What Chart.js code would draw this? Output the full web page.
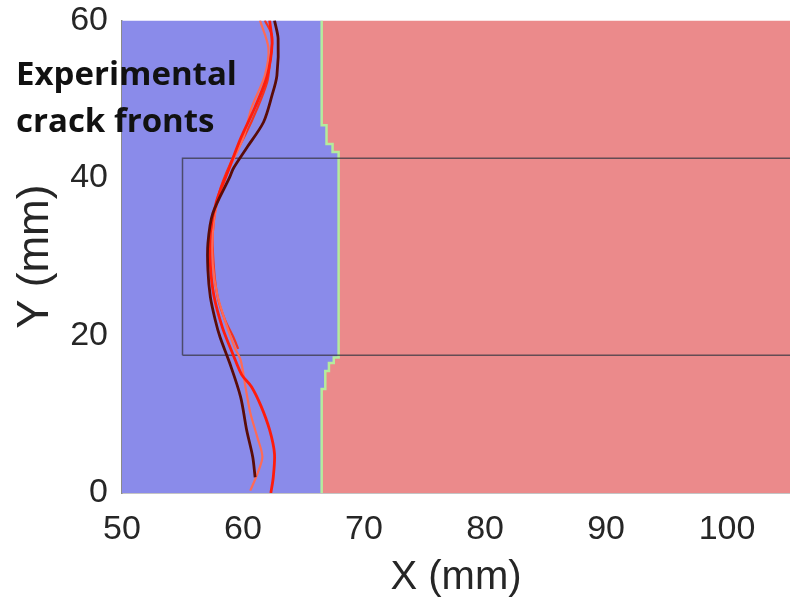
<!DOCTYPE html>
<html lang="en">
<head>
    <meta charset="UTF-8">
    <title>Crack fronts</title>
    <style>
        html, body { margin: 0; padding: 0; background: #fff; }
        .chart-container { width: 790px; height: 607px; }
    </style>
</head>
<body>
    <div class="chart-container">
        <canvas id="crackChart"></canvas>
    </div>

    <script src="https://cdn.jsdelivr.net/npm/chart.js"></script>
    <script>
        // Axis limits and ticks
        const xMin = 50, xMax = 105.2;
        const yMin = 0, yMax = 60;
        const xTicks = [50, 60, 70, 80, 90, 100];
        const yTicks = [0, 20, 40, 60];

        // Phase boundary (blue / red)
        const boundaryX = [66.5, 66.5, 66.8, 66.8, 67.1, 67.1, 67.5, 67.5, 67.9, 67.9, 67.4, 67.4, 66.9, 66.9, 66.5, 66.5];
        const boundaryY = [0, 13.2, 13.2, 15.5, 15.5, 16.5, 16.5, 17.2, 17.2, 43.3, 43.3, 44.3, 44.3, 46.7, 46.7, 60];

        // Window rectangle
        const rectX = [55, 106, 106, 55, 55];
        const rectY = [17.5, 17.5, 42.5, 42.5, 17.5];

        // Experimental crack fronts
        const frontDarkX = [62.6, 62.9, 62.8, 62.4, 61.7, 60.3, 59.2, 58.9, 57.5, 57.1, 57.1, 57.3, 57.7, 58.1, 58.9, 59.8, 60.3, 60.8, 61.0];
        const frontDarkY = [60, 57.7, 53.0, 50.5, 47.1, 43.8, 41.2, 40.1, 35.5, 31.7, 28.3, 24.9, 22.0, 19.8, 16.5, 12.2, 8.0, 4.6, 2.0];

        const frontRedX = [62.2, 62.4, 62.0, 61.0, 59.8, 58.8, 57.8, 57.3, 57.3, 57.6, 58.3, 59.2, 59.9, 60.7, 61.5, 62.2, 62.6, 62.5, 62.3];
        const frontRedY = [60, 57, 53, 49, 45, 41, 37, 33, 29, 25, 21, 17.5, 15, 13.5, 11, 8, 5, 2, 0];

        const frontSalmonX = [61.4, 62.1, 61.8, 60.7, 60.0, 58.8, 57.9, 57.5, 57.5, 57.9, 58.6, 59.3, 59.8, 60.2, 60.6, 61.2, 61.6, 61.2, 60.6];
        const frontSalmonY = [60, 56.5, 53, 48.9, 45, 41, 37, 33, 29, 25, 21.5, 18.5, 16.9, 13.5, 10.2, 7, 4.6, 2.5, 0.3];

        const frontOrangeX = [61.8, 62.4, 62.2, 62.0, 61.2, 60.2, 59.0, 58.0, 57.5, 57.6, 57.9, 58.5, 59.2, 59.6];
        const frontOrangeY = [60, 58, 54.3, 52.2, 48.9, 45.5, 42, 38, 33, 28.5, 24.9, 22, 19.8, 18.3];

        function toPoints(xs, ys) {
            return xs.map((x, i) => ({ x: x, y: ys[i] }));
        }

        const bluePoly = [{ x: xMin, y: yMin }].concat(toPoints(boundaryX, boundaryY), [{ x: xMin, y: yMax }]);
        const redPoly = toPoints(boundaryX, boundaryY).concat([{ x: xMax, y: yMax }, { x: xMax, y: yMin }]);

        function curve(xs, ys, color, width) {
            return { data: toPoints(xs, ys), borderColor: color, borderWidth: width, showLine: true, pointRadius: 0, fill: false, tension: 0.3 };
        }

        // Label text drawn over the plot
        const labelPlugin = {
            id: 'frontLabel',
            afterDraw(chart) {
                const ctx = chart.ctx;
                ctx.save();
                ctx.fillStyle = '#111';
                ctx.font = 'bold 33px "Open Sans"';
                ctx.textBaseline = 'alphabetic';
                ctx.textAlign = 'left';
                ctx.fillText('Experimental', 16, 85);
                ctx.fillText('crack fronts', 16, 132);
                ctx.restore();
            }
        };

        const ctx = document.getElementById('crackChart').getContext('2d');
        new Chart(ctx, {
            type: 'scatter',
            data: {
                datasets: [
                    curve(frontDarkX, frontDarkY, '#5a0c08', 2.8),
                    curve(frontRedX, frontRedY, '#ff1c0c', 2.8),
                    curve(frontSalmonX, frontSalmonY, '#ff6a55', 2.2),
                    curve(frontOrangeX, frontOrangeY, '#f4341f', 2.2),
                    { data: toPoints(rectX, rectY), borderColor: 'rgba(55,55,65,0.75)', borderWidth: 1.5, showLine: true, pointRadius: 0, fill: false },
                    { data: toPoints(boundaryX, boundaryY), borderColor: '#b4ec9c', borderWidth: 2.5, showLine: true, pointRadius: 0, fill: false },
                    { data: bluePoly, backgroundColor: '#8a8bea', borderWidth: 0, showLine: true, pointRadius: 0, fill: 'shape' },
                    { data: redPoly, backgroundColor: '#eb8a8b', borderWidth: 0, showLine: true, pointRadius: 0, fill: 'shape' }
                ]
            },
            options: {
                responsive: true,
                maintainAspectRatio: false,
                animation: false,
                layout: { padding: { top: 0, right: 0, left: 0, bottom: 0 } },
                plugins: {
                    legend: { display: false },
                    tooltip: { enabled: false }
                },
                scales: {
                    x: {
                        type: 'linear',
                        min: xMin,
                        max: xMax,
                        afterBuildTicks: (scale) => { scale.ticks = xTicks.map(v => ({ value: v })); },
                        afterFit: (scale) => { scale.height = 114; },
                        grid: { display: true, drawOnChartArea: false, drawTicks: true, tickLength: 16, tickColor: 'rgba(0,0,0,0)' },
                        border: { display: true, color: '#8a8a8a', width: 1.5 },
                        ticks: { color: '#262626', font: { family: 'Liberation Sans', size: 34 }, padding: 0, maxRotation: 0 },
                        title: { display: true, text: 'X (mm)', color: '#262626', font: { family: 'Liberation Sans', size: 40 }, padding: { top: 0, bottom: 5 } }
                    },
                    y: {
                        type: 'linear',
                        min: yMin,
                        max: yMax,
                        afterBuildTicks: (scale) => { scale.ticks = yTicks.map(v => ({ value: v })); },
                        afterFit: (scale) => { scale.width = 122; },
                        grid: { display: true, drawOnChartArea: false, drawTicks: true, tickLength: 14, tickColor: 'rgba(0,0,0,0)' },
                        border: { display: true, color: '#8a8a8a', width: 1.5 },
                        ticks: { color: '#262626', font: { family: 'Liberation Sans', size: 34 }, padding: 0 },
                        title: { display: true, text: 'Y (mm)', color: '#262626', font: { family: 'Liberation Sans', size: 44 }, padding: { top: 9, bottom: 0 } }
                    }
                }
            },
            plugins: [labelPlugin]
        });
    </script>
</body>
</html>
